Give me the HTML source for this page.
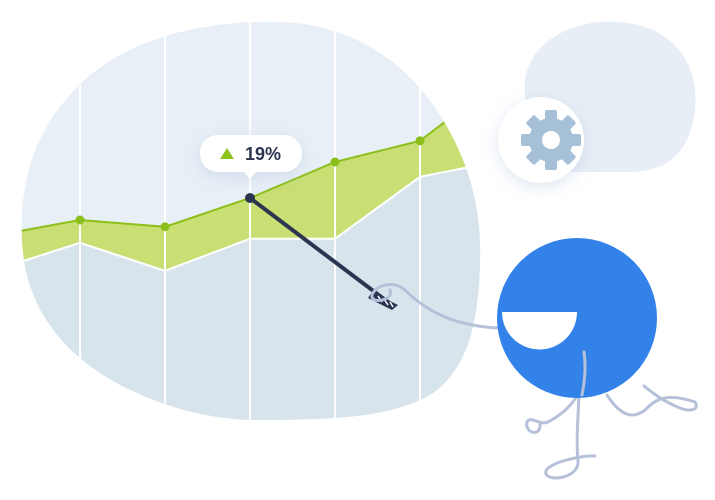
<!DOCTYPE html>
<html><head><meta charset="utf-8"><style>
html,body{margin:0;padding:0;background:#fff;}
svg{display:block;}
text{font-family:"Liberation Sans",sans-serif;}
</style></head><body>
<svg id="scene" width="715" height="500" viewBox="0 0 715 500" xmlns="http://www.w3.org/2000/svg">
<defs>
<clipPath id="blobClip"><path d="M22,240 C18,160 50,110 90,75 C140,35 210,20 280,22 C350,24 405,60 440,115 C468,160 482,205 480,265 C478,330 465,372 430,395 C390,418 330,420 250,420 C200,418 160,405 120,385 C65,355 25,310 22,240 Z"/></clipPath>
<filter id="shadow" x="-50%" y="-50%" width="200%" height="200%"><feDropShadow dx="0" dy="4" stdDeviation="8" flood-color="#9fb6d8" flood-opacity="0.35"/></filter>
</defs>
<path d="M525,95 C520,45 570,18 620,22 C670,26 700,60 695,110 C690,150 670,172 630,172 L560,172 C535,165 527,130 525,95 Z" fill="#e7eef5"/>
<g clip-path="url(#blobClip)">
<rect x="0" y="0" width="500" height="430" fill="#e8eff6"/>
<g id="areas"></g>
<g id="grid"></g>
<g id="lines"></g>
</g>
<g id="dots"></g>
<line x1="250" y1="198" x2="392" y2="305" stroke="#2c3550" stroke-width="4" stroke-linecap="round"/>
<path d="M372,292 L398,305 L392,310 L368,298 Z" fill="#2c3550"/>
<path d="M378,296 l4,6 M384,299 l4,6 M390,302 l3,5" stroke="#fff" stroke-width="1.5"/>
<g filter="url(#shadow)">
<rect x="200" y="135" width="102" height="37" rx="18" fill="#fff"/>
<path d="M243,171 L250,179 L257,171 Z" fill="#fff"/>
</g>
<path d="M220,159 L227,148 L234,159 Z" fill="#8fc31f"/>
<text x="245" y="160" font-size="18" font-weight="bold" fill="#2c3550">19%</text>
<g filter="url(#shadow)"><circle cx="541" cy="140" r="43" fill="#fff"/></g>
<g fill="#a6c0d8" transform="translate(551,140)">
<circle r="22"/>
<g id="teeth"></g>
<circle r="9" fill="#fff"/>
</g>
<g fill="none" stroke="#b5c0d9" stroke-width="3" stroke-linecap="round">
<path d="M498,328 C460,326 430,315 405,290 C395,280 375,285 372,295 C370,305 395,300 390,290"/>
<path d="M584,352 C588,380 580,405 548,422 C540,426 530,415 527,422 C524,432 540,438 540,425"/>
<path d="M579,395 C578,420 576,440 578,460 C580,478 550,482 546,474 C542,464 580,455 595,456"/>
<path d="M607,395 C620,415 632,420 645,410 C655,400 665,392 695,402 C700,410 690,412 680,408 C665,402 655,395 644,386"/>
</g>
<circle cx="577" cy="318" r="80" fill="#3282ea"/>
<path d="M502,312 L577,312 A37.5,37.5 0 0 1 502,312 Z" fill="#fff"/>
<path d="M584,352 C586,365 585,380 582,395" fill="none" stroke="#b5c0d9" stroke-width="3" stroke-linecap="round"/>
</svg>
<script>
const categories = ["P0","P1","P2","P3","P4","P5","P6"];
const greenValues = [46.1, 50, 48.3, 55.5, 64.5, 69.8, 86];
const grayValues = [37.5, 44.3, 37.3, 45.3, 45.3, 60.8, 65];
const NS="http://www.w3.org/2000/svg";
const xScale = i => -5 + i*85;
const yScale = v => 420 - v*4;
function mk(tag, attrs, parent){const e=document.createElementNS(NS,tag);for(const k in attrs)e.setAttribute(k,attrs[k]);parent.appendChild(e);return e;}
const areas=document.getElementById('areas'), grid=document.getElementById('grid'), lines=document.getElementById('lines'), dots=document.getElementById('dots');
const gPts=greenValues.map((v,i)=>xScale(i)+','+yScale(v));
const wPts=grayValues.map((v,i)=>xScale(i)+','+yScale(v));
let a=mk('polygon',{points:gPts.join(' ')+' '+wPts.slice().reverse().join(' '),fill:'#c9df73'},areas);


a=mk('polygon',{points:wPts.join(' ')+' '+xScale(6)+',440 '+xScale(0)+',440',fill:'#d8e4ec'},areas);


for(let i=1;i<=5;i++){const l=mk('line',{x1:xScale(i),x2:xScale(i),y1:0,y2:440,stroke:'#fff','stroke-width':2},grid);

}
let l=mk('polyline',{points:wPts.join(' '),fill:'none',stroke:'#fff','stroke-width':2},lines);


l=mk('polyline',{points:gPts.join(' '),fill:'none',stroke:'#8dbf1c','stroke-width':2},lines);


for(let i=1;i<=5;i++){const d=mk('circle',{cx:xScale(i),cy:yScale(greenValues[i]),r:i===3?5:4.5,fill:i===3?'#2c3550':'#8dbf1c'},dots);

}
const teeth=document.getElementById('teeth');
for(let k=0;k<8;k++){const t=mk('rect',{x:-6,y:-30,width:12,height:12,rx:2,transform:'rotate('+(k*45)+')'},teeth);

}
</script>
</body></html>
